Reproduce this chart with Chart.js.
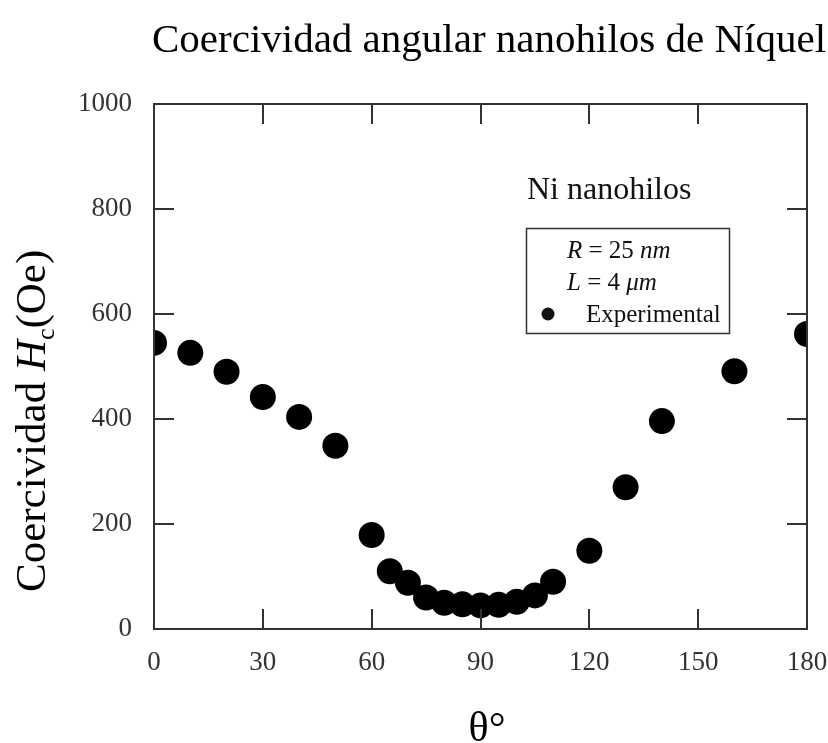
<!DOCTYPE html>
<html>
<head>
<meta charset="utf-8">
<script src="https://cdn.jsdelivr.net/npm/chart.js@4"></script>
<style>
    html, body { margin: 0; padding: 0; background: #fff; }
    #wrap { width: 828px; height: 743px; }
</style>
</head>
<body>
<div id="wrap"><canvas id="hcChart" width="828" height="743"></canvas></div>
<script>
// Coercividad angular Hc (Oe) vs ángulo θ (grados)
const angles = [0, 10, 20, 30, 40, 50, 60, 65, 70, 75, 80, 85, 90, 95, 100, 105, 110, 120, 130, 140, 160, 180];
const coercivity = [545, 526, 490, 442, 404, 349, 179, 110, 88, 60, 50, 47, 45, 46, 52, 64, 90, 149, 270, 396, 491, 562];
const xTicks = [0, 30, 60, 90, 120, 150, 180];
const yTicks = [0, 200, 400, 600, 800, 1000];

const serif = '"Liberation Serif", "Times New Roman", serif';
const axisColor = '#333';

// draws a row of text pieces with individual styles, left to right
function drawPieces(ctx, pieces, x, y) {
    pieces.forEach(p => {
        ctx.font = p.font;
        ctx.fillText(p.text, x, y + (p.dy || 0));
        x += ctx.measureText(p.text).width;
    });
    return x;
}

const framePlugin = {
    id: 'frame',
    beforeDraw(chart) {
        const ctx = chart.ctx;
        ctx.save();
        ctx.fillStyle = '#fff';
        ctx.fillRect(0, 0, chart.width, chart.height);
        ctx.restore();
    },
    afterDatasetsDraw(chart) {
        const ctx = chart.ctx;
        const a = chart.chartArea;
        const xs = chart.scales.x;
        const ys = chart.scales.y;
        const tick = 20;
        ctx.save();
        ctx.strokeStyle = axisColor;
        ctx.lineWidth = 2;
        ctx.strokeRect(a.left, a.top, a.right - a.left, a.bottom - a.top);
        ctx.beginPath();
        xTicks.forEach(v => {
            const px = Math.round(xs.getPixelForValue(v));
            ctx.moveTo(px, a.bottom); ctx.lineTo(px, a.bottom - tick);
            ctx.moveTo(px, a.top); ctx.lineTo(px, a.top + tick);
        });
        yTicks.forEach(v => {
            const py = Math.round(ys.getPixelForValue(v));
            ctx.moveTo(a.left, py); ctx.lineTo(a.left + tick, py);
            ctx.moveTo(a.right, py); ctx.lineTo(a.right - tick, py);
        });
        ctx.stroke();
        ctx.restore();
    },
    afterDraw(chart) {
        const ctx = chart.ctx;
        ctx.save();
        ctx.fillStyle = '#000';
        ctx.textBaseline = 'alphabetic';

        // title
        ctx.font = '41px ' + serif;
        ctx.textAlign = 'center';
        ctx.fillText('Coercividad angular nanohilos de Níquel', 489, 52);

        // x axis title
        ctx.font = '42px ' + serif;
        ctx.fillText('θ°', 487, 741);

        // y axis title, rotated
        ctx.textAlign = 'left';
        ctx.translate(45, 592);
        ctx.rotate(-Math.PI / 2);
        drawPieces(ctx, [
            { text: 'Coercividad ', font: '43px ' + serif },
            { text: 'H', font: 'italic 43px ' + serif },
            { text: 'c', font: '26px ' + serif, dy: 9 },
            { text: '(Oe)', font: '43px ' + serif }
        ], 0, 0);
        ctx.setTransform(1, 0, 0, 1, 0, 0);

        // annotation and legend box
        ctx.fillStyle = '#111';
        ctx.font = '32px ' + serif;
        ctx.fillText('Ni nanohilos', 527, 199);

        ctx.strokeStyle = axisColor;
        ctx.lineWidth = 1.5;
        ctx.strokeRect(526.5, 228.5, 203, 105);

        const f = '25px ' + serif;
        const fi = 'italic 25px ' + serif;
        drawPieces(ctx, [
            { text: 'R', font: fi },
            { text: ' = 25 ', font: f },
            { text: 'nm', font: fi }
        ], 567, 258);
        drawPieces(ctx, [
            { text: 'L', font: fi },
            { text: ' = 4 ', font: f },
            { text: 'μm', font: fi }
        ], 567, 290);
        ctx.beginPath();
        ctx.arc(548, 314, 6.5, 0, Math.PI * 2);
        ctx.fill();
        ctx.font = f;
        ctx.fillText('Experimental', 586, 322);
        ctx.restore();
    }
};

const ctx = document.getElementById('hcChart').getContext('2d');
const chart = new Chart(ctx, {
    type: 'scatter',
    data: {
        datasets: [{
            label: 'Experimental',
            data: angles.map((a, i) => ({ x: a, y: coercivity[i] })),
            backgroundColor: '#000',
            borderColor: '#000',
            borderWidth: 0,
            pointRadius: 13,
            pointHoverRadius: 13,
            clip: 0
        }]
    },
    options: {
        responsive: false,
        animation: false,
        devicePixelRatio: 1,
        layout: {
            padding: { top: 104, right: 21, left: 0, bottom: 0 }
        },
        plugins: {
            legend: { display: false },
            title: { display: false },
            tooltip: { enabled: false }
        },
        scales: {
            x: {
                type: 'linear',
                min: 0,
                max: 180,
                afterBuildTicks(scale) {
                    scale.ticks = xTicks.map(v => ({ value: v }));
                },
                afterFit(scale) {
                    scale.height = 114;
                    scale.paddingLeft = 0;
                    scale.paddingRight = 0;
                },
                grid: { display: false, drawTicks: false },
                border: { display: false },
                ticks: {
                    padding: 18,
                    color: axisColor,
                    font: { family: serif, size: 27 },
                    callback: v => String(v)
                }
            },
            y: {
                type: 'linear',
                min: 0,
                max: 1000,
                afterBuildTicks(scale) {
                    scale.ticks = yTicks.map(v => ({ value: v }));
                },
                afterFit(scale) {
                    scale.width = 154;
                    scale.paddingTop = 0;
                    scale.paddingBottom = 0;
                },
                grid: { display: false, drawTicks: false },
                border: { display: false },
                ticks: {
                    padding: 22,
                    color: axisColor,
                    font: { family: serif, size: 27 },
                    callback: v => String(v)
                }
            }
        }
    },
    plugins: [framePlugin]
});
</script>
</body>
</html>
